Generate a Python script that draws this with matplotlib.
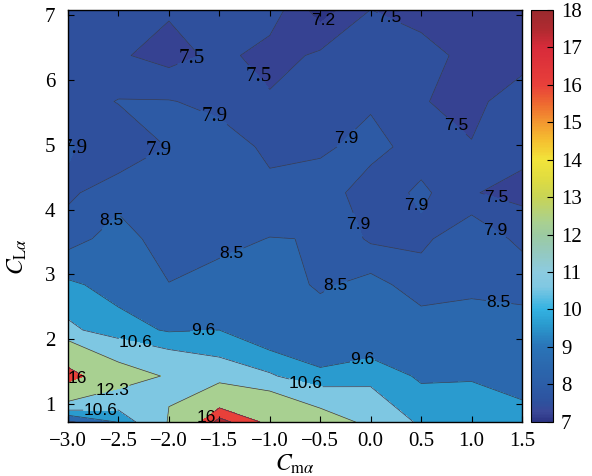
import numpy as np
import matplotlib
matplotlib.use('Agg')
import matplotlib.pyplot as plt
from matplotlib.colors import LinearSegmentedColormap, Normalize
from matplotlib.cm import ScalarMappable

plt.rcParams['font.family'] = 'Liberation Serif'
plt.rcParams['mathtext.fontset'] = 'stix'

# sweep grid
cm_alpha = [-3.0, -2.5, -2.0, -1.5, -1.0, -0.5, 0.0, 0.5, 1.0, 1.5]
cl_alpha = [0.72, 1.43, 2.14, 2.84, 3.55, 4.26, 4.97, 5.67, 6.38, 7.09]

# response at each node, one row per CL_alpha value (bottom to top)
resp = [
    [8.30, 9.65, 12.40, 18.10, 15.50, 13.40, 11.83, 10.38, 10.20, 10.00],
    [17.20, 13.30, 12.10, 11.30, 10.75, 9.75, 10.23, 9.45, 9.52, 9.17],
    [10.85, 10.00, 9.50, 9.60, 8.70, 8.95, 8.60, 8.85, 8.95, 8.75],
    [9.79, 9.21, 8.53, 8.77, 8.90, 8.39, 8.73, 8.19, 8.30, 8.30],
    [8.09, 8.95, 7.99, 8.30, 8.52, 8.48, 7.80, 7.77, 8.31, 7.75],
    [7.83, 8.12, 8.20, 8.20, 7.98, 8.20, 7.60, 8.00, 7.52, 7.40],
    [7.95, 7.60, 7.92, 8.07, 7.83, 7.80, 8.10, 7.65, 7.52, 7.60],
    [7.70, 7.92, 7.92, 7.80, 7.55, 7.70, 7.82, 7.52, 7.40, 7.70],
    [7.70, 7.55, 7.35, 7.60, 7.36, 7.56, 7.70, 7.60, 7.42, 7.35],
    [7.70, 7.70, 7.55, 7.65, 7.68, 7.05, 7.50, 7.40, 7.40, 7.40],
]

levels = [7.2, 7.5, 7.9, 8.5, 9.6, 10.6, 12.3, 16.0, 17.5]
cmin, cmax = 7.0, 18.0

# colour scale
anchor_vals = [7.0, 7.25, 7.5, 8.0, 8.5, 9.0, 9.6, 10.0, 10.6, 11.0, 11.5, 12.0,
               12.3, 13.0, 13.5, 14.0, 14.5, 15.0, 15.5, 16.0, 17.0, 17.5, 18.0]
anchor_cols = ['#2d3585', '#3a4898', '#2e519e', '#2c5ea8', '#2b69ae', '#2a74b8',
               '#2a9ccf', '#34b2e2', '#80c8e2', '#8ccbe0', '#94c9c0', '#9ccaa0',
               '#a8d092', '#c8d456', '#e0dc40', '#f2e43a', '#f5c030', '#f39830',
               '#ee6a30', '#e8403a', '#d82b3a', '#b02a30', '#9a2a2e']
cmap = LinearSegmentedColormap.from_list(
    'resp', list(zip([(v - cmin) / (cmax - cmin) for v in anchor_vals], anchor_cols)))
norm = Normalize(cmin, cmax)

# label spots per level: (level, points, font size, family)
sans, serif = 'Liberation Sans', 'Liberation Serif'
label_spots = [
    (7.2, [(-0.43, 6.85)], 12.5, sans),
    (7.5, [(0.14, 6.81), (0.72, 5.07), (1.21, 3.99)], 12.5, sans),
    (7.5, [(-1.77, 6.3), (-1.15, 6.0)], 15, serif),
    (7.9, [(-0.24, 5.1), (0.41, 4.02), (-0.19, 3.73), (1.15, 3.48)], 12.5, sans),
    (7.9, [(-1.59, 5.28), (-2.06, 4.81), (-2.9, 4.92)], 15, serif),
    (8.5, [(-2.53, 3.76), (-1.34, 3.19), (-0.30, 2.68), (1.25, 2.34)], 12.5, sans),
    (9.6, [(-1.66, 1.96), (-0.06, 1.5)], 12.5, sans),
    (10.6, [(-2.35, 1.82), (-0.68, 1.08), (-2.68, 0.81)], 12.5, sans),
    (12.3, [(-2.53, 1.06)], 12.5, sans),
    (16.0, [(-2.88, 1.29), (-1.66, 0.85)], 12.5, sans),
]

x = np.array(cm_alpha)
y = np.array(cl_alpha)
z = np.array(resp)

fig = plt.figure(figsize=(5.92, 4.76), dpi=100)
ax = fig.add_axes([0.1149, 0.1134, 0.7669, 0.8666])

# filled bands take the colour of their lower bound
bounds = [cmin] + levels + [cmax + 0.5]
band_cols = [cmap(norm(b)) for b in bounds[:-1]]
ax.contourf(x, y, z, levels=bounds, colors=band_cols)

# one line set per level so each can be labelled on its own
line_sets = {}
for lev in levels:
    line_sets[lev] = ax.contour(x, y, z, levels=[lev], colors='#3a3a50',
                                linewidths=0.5)

for lev, pts, size, family in label_spots:
    cs = line_sets[lev]
    texts = cs.clabel(manual=pts, inline=True, inline_spacing=2,
                      fontsize=size, fmt='%g', colors='k')
    for t in list(texts)[-len(pts):]:
        t.set_rotation(0)
        t.set_fontfamily(family)

ax.set_xlim(cm_alpha[0], cm_alpha[-1])
ax.set_ylim(cl_alpha[0], cl_alpha[-1])
ax.set_xticks(cm_alpha)
ax.set_yticks([1, 2, 3, 4, 5, 6, 7])
ax.tick_params(direction='in', top=True, right=True, length=4, width=0.8,
               labelsize=15)
ax.tick_params(axis='x', pad=7)
ax.tick_params(axis='y', pad=9)
for s in ax.spines.values():
    s.set_linewidth(1.0)

ax.set_xlabel(r'$C_{\mathrm{m}\alpha}$', fontsize=17)
ax.set_ylabel(r'$C_{\mathrm{L}\alpha}$', fontsize=17)
ax.xaxis.set_label_coords(0.5, -0.075)
ax.yaxis.set_label_coords(-0.085, 0.40)

cax = fig.add_axes([0.8965, 0.1141, 0.0372, 0.8649])
cb = fig.colorbar(ScalarMappable(norm=norm, cmap=cmap), cax=cax,
                  ticks=list(range(7, 19)))
cb.outline.set_linewidth(0.8)
cax.tick_params(direction='in', length=4, width=0.8, labelsize=15, pad=6)

fig.savefig('out.png', dpi=100)
